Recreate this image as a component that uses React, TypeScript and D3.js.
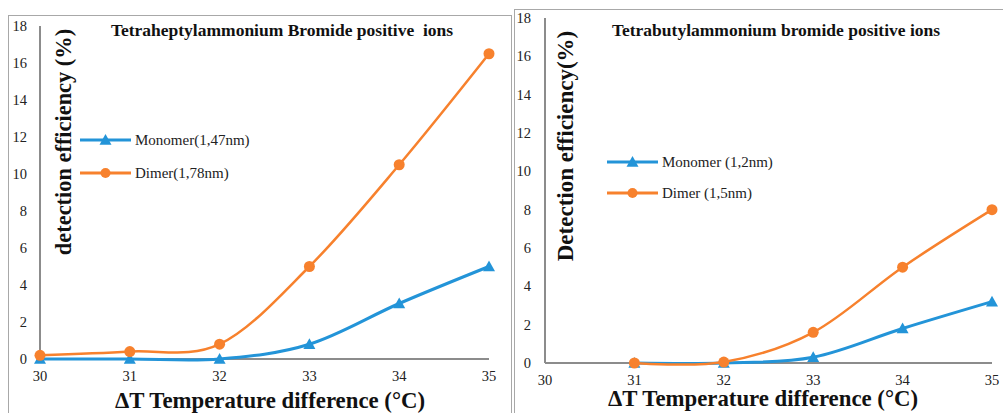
import React from "react";
import * as d3 from "d3";

const temps = [30, 31, 32, 33, 34, 35];
const xTicks = [30, 31, 32, 33, 34, 35];
const yTicks = [0, 2, 4, 6, 8, 10, 12, 14, 16, 18];

const heptylMonomer = [0, 0, 0, 0.8, 3, 5];
const heptylDimer = [0.2, 0.4, 0.8, 5, 10.5, 16.5];

const butylTemps = [31, 32, 33, 34, 35];
const butylMonomer = [0, 0, 0.3, 1.8, 3.2];
const butylDimer = [0, 0.05, 1.6, 5, 8];

const BLUE = "#2394d8";
const ORANGE = "#f7812d";
const AXIS = "#8c8c8c";
const FONT = "Liberation Serif, Times New Roman, serif";

type Series = { name: string; xs: number[]; ys: number[]; color: string; marker: "tri" | "circle" };

type PanelProps = {
  frame: { x: number; y: number; w: number; h: number };
  xRange: [number, number];
  yRange: [number, number];
  title: string;
  titleX: number;
  titleY: number;
  yTitle: string;
  yTitleX: number;
  yTitleY: number;
  yTitleSize: number;
  xTitleX: number;
  xTitleY: number;
  yLabelX: number;
  xLabelDy: number;
  legendX: number;
  legendY: number[];
  series: Series[];
};

function Triangle({ x, y, color }: { x: number; y: number; color: string }) {
  const s = 6;
  return <path d={`M${x},${y - s} L${x + s},${y + s * 0.8} L${x - s},${y + s * 0.8} Z`} fill={color} />;
}

function Panel(p: PanelProps) {
  const x = d3.scaleLinear().domain([30, 35]).range(p.xRange);
  const y = d3.scaleLinear().domain([0, 18]).range(p.yRange);
  const line = d3
    .line<[number, number]>()
    .x((d) => x(d[0]))
    .y((d) => y(d[1]))
    .curve(d3.curveCardinal.tension(0));
  return (
    <g>
      <rect x={p.frame.x} y={p.frame.y} width={p.frame.w} height={p.frame.h} fill="white" stroke="#a8a8a8" strokeWidth={1} />
      <line x1={p.xRange[0]} x2={p.xRange[0]} y1={p.yRange[1]} y2={p.yRange[0]} stroke={AXIS} strokeWidth={2} />
      <line x1={p.xRange[0]} x2={p.xRange[1]} y1={p.yRange[0]} y2={p.yRange[0]} stroke={AXIS} strokeWidth={2} />
      {yTicks.map((t) => (
        <text key={"y" + t} x={p.yLabelX} y={y(t)} textAnchor="end" dominantBaseline="central" fontFamily={FONT} fontSize={14.5} fill="#222">
          {t}
        </text>
      ))}
      {xTicks.map((t) => (
        <text key={"x" + t} x={x(t)} y={p.yRange[0] + p.xLabelDy} textAnchor="middle" fontFamily={FONT} fontSize={14.5} fill="#222">
          {t}
        </text>
      ))}
      {p.series.map((s) => {
        const pts = s.xs.map((v, i) => [v, s.ys[i]] as [number, number]);
        return (
          <g key={s.name}>
            <path d={line(pts) || ""} fill="none" stroke={s.color} strokeWidth={s.marker === "tri" ? 3 : 2.5} />
            {pts.map((d, i) =>
              s.marker === "tri" ? (
                <Triangle key={i} x={x(d[0])} y={y(d[1])} color={s.color} />
              ) : (
                <circle key={i} cx={x(d[0])} cy={y(d[1])} r={5.5} fill={s.color} />
              )
            )}
          </g>
        );
      })}
      {p.series.map((s, i) => {
        const ly = p.legendY[i];
        const lx = p.legendX;
        return (
          <g key={"leg" + s.name}>
            <line x1={lx} x2={lx + 51} y1={ly} y2={ly} stroke={s.color} strokeWidth={3} />
            {s.marker === "tri" ? (
              <Triangle x={lx + 25.5} y={ly} color={s.color} />
            ) : (
              <circle cx={lx + 25.5} cy={ly} r={5} fill={s.color} />
            )}
            <text x={lx + 55} y={ly} dominantBaseline="central" fontFamily={FONT} fontSize={15} fill="#222">
              {s.name}
            </text>
          </g>
        );
      })}
      <text
        x={p.titleX}
        y={p.titleY}
        textAnchor="middle"
        fontFamily={FONT}
        fontWeight="bold"
        fontSize={17.5}
        fill="#111"
        style={{ whiteSpace: "pre" }}
      >
        {p.title}
      </text>
      <text
        transform={`translate(${p.yTitleX},${p.yTitleY}) rotate(-90)`}
        textAnchor="middle"
        dominantBaseline="central"
        fontFamily={FONT}
        fontWeight="bold"
        fontSize={p.yTitleSize}
        fill="#111"
      >
        {p.yTitle}
      </text>
      <text x={p.xTitleX} y={p.xTitleY} textAnchor="middle" fontFamily={FONT} fontWeight="bold" fontSize={22.8} fill="#111">
        ΔT Temperature difference (°C)
      </text>
    </g>
  );
}

export default function App() {
  return (
    <svg width={1003} height={413} style={{ position: "absolute", left: 0, top: 0, background: "white" }}>
      <rect x={0} y={0} width={1003} height={413} fill="white" />
      <Panel
        frame={{ x: 8.5, y: 15.5, w: 503, h: 420 }}
        xRange={[40, 489]}
        yRange={[359, 26]}
        title="Tetraheptylammonium Bromide positive  ions"
        titleX={282}
        titleY={36}
        yTitle="detection efficiency (%)"
        yTitleX={63}
        yTitleY={142}
        yTitleSize={22.4}
        xTitleX={270}
        xTitleY={408}
        yLabelX={27}
        xLabelDy={21.5}
        legendX={80}
        legendY={[140, 173]}
        series={[
          { name: "Monomer(1,47nm)", xs: temps, ys: heptylMonomer, color: BLUE, marker: "tri" },
          { name: "Dimer(1,78nm)", xs: temps, ys: heptylDimer, color: ORANGE, marker: "circle" },
        ]}
      />
      <Panel
        frame={{ x: 514.5, y: 9.5, w: 500, h: 420 }}
        xRange={[545, 992]}
        yRange={[363, 18]}
        title="Tetrabutylammonium bromide positive ions"
        titleX={776}
        titleY={35.5}
        yTitle="Detection efficiency(%)"
        yTitleX={565}
        yTitleY={146}
        yTitleSize={23}
        xTitleX={763}
        xTitleY={406}
        yLabelX={531}
        xLabelDy={22}
        legendX={607}
        legendY={[162, 193]}
        series={[
          { name: "Monomer (1,2nm)", xs: butylTemps, ys: butylMonomer, color: BLUE, marker: "tri" },
          { name: "Dimer (1,5nm)", xs: butylTemps, ys: butylDimer, color: ORANGE, marker: "circle" },
        ]}
      />
    </svg>
  );
}
